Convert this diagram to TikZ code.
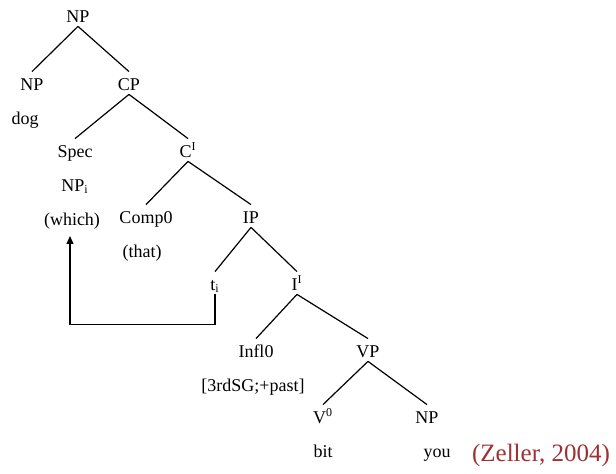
\documentclass[tikz,border=0pt]{standalone}
\usepackage{fontspec}
\setmainfont{Liberation Serif}
\usepackage{xcolor}
\usepackage{tikz}
\usetikzlibrary{arrows.meta, positioning}
\definecolor{CiteRed}{RGB}{158,48,50}
\tikzset{
    synnode/.style={inner xsep=1pt, inner ysep=1.5pt, text height=8pt, text depth=0pt,
        font=\fontsize{9}{11}\selectfont, anchor=base},
    wordnode/.style={inner xsep=1pt, inner ysep=1.5pt, text height=8pt, text depth=0pt,
        font=\fontsize{9}{11}\selectfont},
    branch/.style={line width=0.6pt},
    movearrow/.style={-{Triangle[length=4pt, width=3.5pt]}, line width=0.6pt, shorten >=3.5pt},
    citenode/.style={anchor=base, inner sep=0pt, text=CiteRed, font=\fontsize{12.5}{14}\selectfont},
}

\begin{document}
\begin{tikzpicture}[x=0.5pt, y=-0.5pt, node distance=5.5pt]
    \useasboundingbox (0,0) rectangle (616,474);
    % categories of the tree, placed at their baselines
    \node[synnode] (np0) at (78,23) {NP};
    \node[synnode] (np1) at (32,91) {NP};
    \node[synnode] (cp) at (129,91) {CP};
    \node[synnode] (spec) at (75,158) {Spec};
    \node[synnode] (cbar) at (188,158) {C\textsuperscript{I}};
    \node[synnode] (comp) at (146,224) {Comp0};
    \node[synnode] (ip) at (251,224) {IP};
    \node[synnode] (trace) at (215,291) {t\textsubscript{i}};
    \node[synnode] (ibar) at (297,291) {I\textsuperscript{I}};
    \node[synnode] (infl) at (256,358) {Infl0};
    \node[synnode] (vp) at (368,358) {VP};
    \node[synnode] (v0) at (323,424) {V\textsuperscript{0}};
    \node[synnode] (np2) at (427,424) {NP};

    % words under the categories
    \node[wordnode, below=of np1, xshift=-3.5pt] (dog) {dog};
    \node[wordnode, below=of spec] (npi) {NP\textsubscript{i}};
    \node[wordnode, below=of npi, xshift=-1.5pt] (which) {(which)};
    \node[wordnode, below=of comp, xshift=-2pt] (that) {(that)};
    \node[wordnode, below=of infl, xshift=-1.5pt] (feat) {[3rdSG;+past]};
    \node[wordnode, below=of v0] (bit) {bit};
    \node[wordnode, below=of np2, xshift=5pt] (you) {you};

    \node[citenode] (cite) at (541,462) {(Zeller, 2004)};

    % branches
    \draw[branch] (np0.south) -- (np1.north);
    \draw[branch] (np0.south) -- (cp.north);
    \draw[branch] (cp.south) -- (spec.north);
    \draw[branch] (cp.south) -- (cbar.north);
    \draw[branch] (cbar.south) -- (comp.north);
    \draw[branch] (cbar.south) -- (ip.north);
    \draw[branch] (ip.south) -- (trace.north);
    \draw[branch] (ip.south) -- (ibar.north);
    \draw[branch] (ibar.south) -- (infl.north);
    \draw[branch] (ibar.south) -- (vp.north);
    \draw[branch] (vp.south) -- (v0.north);
    \draw[branch] (vp.south) -- (np2.north);

    % movement of the relative pronoun
    \draw[movearrow] (trace.south) -- ++(0,30) -| ([xshift=-1pt]which.south);
\end{tikzpicture}
\end{document}
